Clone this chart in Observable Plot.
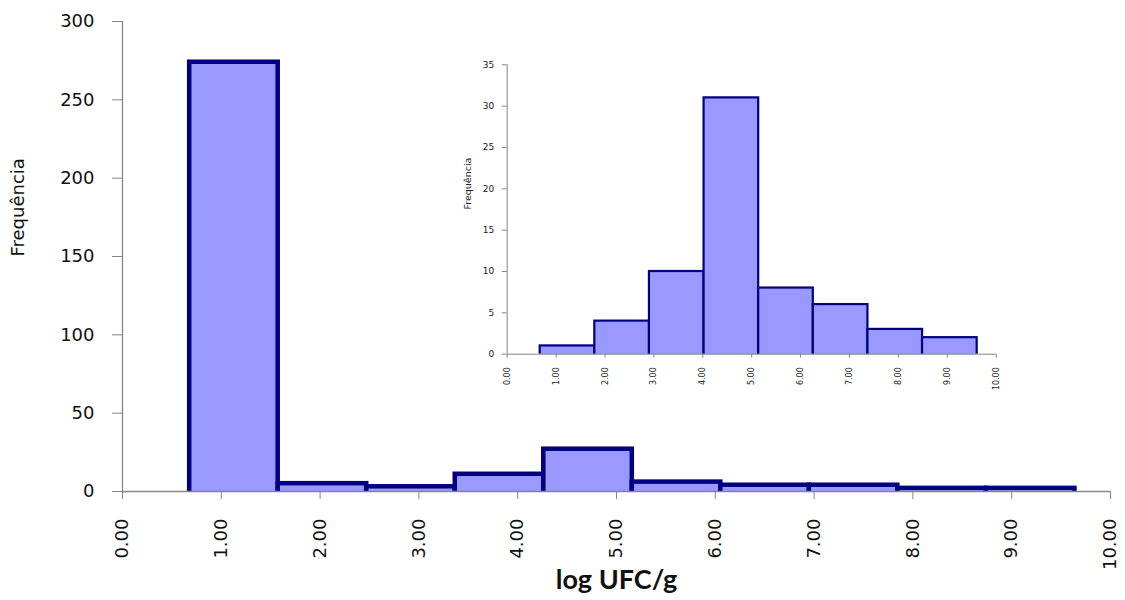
<!DOCTYPE html>
<html>
<head>
<meta charset="utf-8">
<script src="https://cdn.jsdelivr.net/npm/d3@7"></script>
<script src="https://cdn.jsdelivr.net/npm/@observablehq/plot@0.6"></script>
<style>
  body { margin: 0; background: #fff; }
  #wrap { position: relative; width: 1125px; height: 600px; overflow: hidden; }
  #inset { position: absolute; left: 440px; top: 50px; }
  #wrap svg { background: transparent !important; }
</style>
</head>
<body>
<div id="wrap"><div id="main"></div><div id="inset"></div></div>
<script>
// Main histogram (all samples)
const mainEdges = [0.68, 1.576, 2.472, 3.368, 4.264, 5.16, 6.056, 6.952, 7.848, 8.744, 9.64];
const mainCounts = [274, 5, 3, 11, 27, 6, 4, 4, 2, 2];
// Inset histogram (positive samples)
const insetEdges = [0.675, 1.792, 2.909, 4.026, 5.143, 6.26, 7.377, 8.494, 9.611];
const insetCounts = [1, 4, 10, 31, 8, 6, 3, 2];
// Tick values
const xTicks = [0, 1, 2, 3, 4, 5, 6, 7, 8, 9, 10];
const mainYTicks = [0, 50, 100, 150, 200, 250, 300];
const insetYTicks = [0, 5, 10, 15, 20, 25, 30, 35];
const xLabel = "log UFC/g";
const yLabel = "Frequência";

const fill = "#9999ff", edge = "#000080", axisGray = "#868686";
const font = "DejaVu Sans, Verdana, sans-serif";

const toBins = (edges, counts) => counts.map((c, i) => ({x1: edges[i], x2: edges[i + 1], y: c}));
const mainBins = toBins(mainEdges, mainCounts);
const insetBins = toBins(insetEdges, insetCounts);

const main = Plot.plot({
  width: 1125, height: 600,
  marginLeft: 122, marginRight: 15, marginTop: 21, marginBottom: 109,
  style: {fontFamily: font, background: "transparent", color: "#000"},
  x: {domain: [0, 10]},
  y: {domain: [0, 300]},
  marks: [
    Plot.rectY(mainBins, {x1: "x1", x2: "x2", y: "y", fill, stroke: edge, strokeWidth: 4.5,
      insetBottom: -2.5, clip: "frame"}),
    Plot.ruleY([0], {stroke: axisGray, strokeWidth: 1.3}),
    Plot.ruleX([0], {stroke: axisGray, strokeWidth: 1.3}),
    Plot.axisX({ticks: xTicks, tickFormat: d3.format(".2f"), tickRotate: -90, tickSize: 8,
      tickPadding: 19, fontSize: 18, stroke: axisGray, fill: "#111", label: null}),
    Plot.axisY({ticks: mainYTicks, tickSize: 10, tickPadding: 18, fontSize: 18,
      stroke: axisGray, fill: "#111", label: null}),
    Plot.text([xLabel], {text: d => d, frameAnchor: "bottom", dy: 97, fontSize: 27,
      fontWeight: "bold", fontFamily: "Lato, Open Sans, sans-serif", fill: "#111"}),
    Plot.text([yLabel], {text: d => d, frameAnchor: "left", dx: -104, rotate: -90,
      fontSize: 18, fill: "#111"})
  ]
});
document.getElementById("main").appendChild(main);

const inset = Plot.plot({
  width: 570, height: 350,
  marginLeft: 66.7, marginRight: 14.3, marginTop: 14.3, marginBottom: 46.3,
  style: {fontFamily: font, background: "transparent", color: "#000"},
  x: {domain: [0, 10]},
  y: {domain: [0, 35]},
  marks: [
    Plot.rectY(insetBins, {x1: "x1", x2: "x2", y: "y", fill, stroke: edge, strokeWidth: 2.2,
      insetBottom: -1.2, clip: "frame"}),
    Plot.ruleY([0], {stroke: axisGray, strokeWidth: 1}),
    Plot.ruleX([0], {stroke: axisGray, strokeWidth: 1}),
    Plot.axisX({ticks: xTicks, tickFormat: d3.format(".2f"), tickRotate: -90, tickSize: 4,
      tickPadding: 9, fontSize: 8, stroke: axisGray, fill: "#222", label: null}),
    Plot.axisY({ticks: insetYTicks, tickSize: 5, tickPadding: 8, fontSize: 9,
      stroke: axisGray, fill: "#222", label: null}),
    Plot.text([yLabel], {text: d => d, frameAnchor: "left", dx: -39.7, rotate: -90,
      fontSize: 9.5, fill: "#222"})
  ]
});
document.getElementById("inset").appendChild(inset);
</script>
</body>
</html>
